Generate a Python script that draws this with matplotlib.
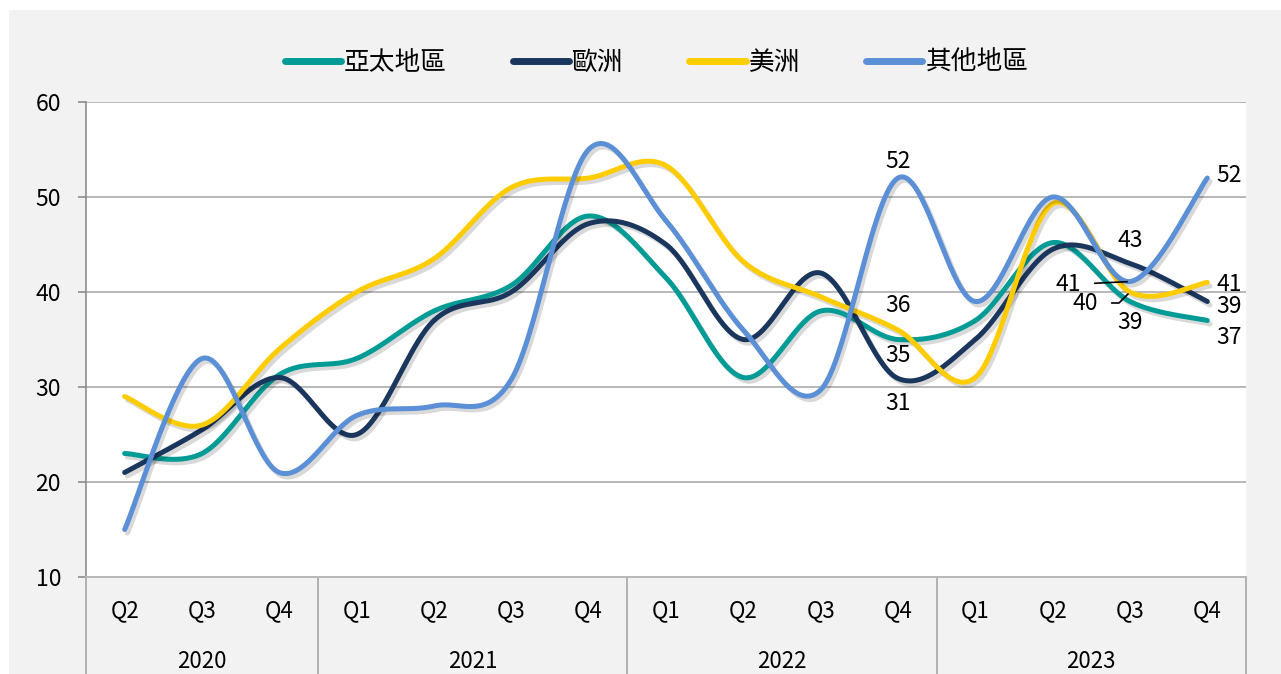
import numpy as np
import matplotlib
matplotlib.use('Agg')
import matplotlib.pyplot as plt
import matplotlib.patheffects as pe
from matplotlib.patches import Rectangle
from matplotlib.transforms import blended_transform_factory

plt.rcParams['font.family'] = ['Noto Sans CJK TC', 'DejaVu Sans']

# Data
quarters = ['Q2', 'Q3', 'Q4', 'Q1', 'Q2', 'Q3', 'Q4', 'Q1', 'Q2', 'Q3', 'Q4', 'Q1', 'Q2', 'Q3', 'Q4']
years = ['2020', '2021', '2022', '2023']
year_span = [3, 4, 4, 4]  # number of quarters per year

series_names = ['亞太地區', '歐洲', '美洲', '其他地區']
apac = [23, 23, 31.3, 33, 38, 40.7, 48, 41.5, 31, 38, 35, 37, 45.2, 39, 37]
europe = [21, 25.5, 31, 25, 37, 40, 47.2, 45, 35, 42, 30.9, 35, 44.5, 43, 39]
americas = [29, 26, 34, 40, 43.5, 51, 52, 53.3, 43.2, 39.5, 36, 31, 49.3, 40, 41]
others = [15, 33, 21, 27, 28, 30.8, 55.0, 47.5, 36, 29.7, 52, 39, 50, 41.1, 52]

colors = ['#009b95', '#1b365d', '#ffcc00', '#5b8fd6']


def smooth(y, n=40):
    # Excel-like smoothed line: Catmull-Rom through every point as cubic Bezier
    pts = np.column_stack([np.arange(len(y)), y]).astype(float)
    ext = np.vstack([pts[0], pts, pts[-1]])
    t = np.linspace(0, 1, n)[:, None]
    out = []
    for i in range(len(y) - 1):
        p0, p1, p2, p3 = ext[i], ext[i + 1], ext[i + 2], ext[i + 3]
        c1 = p1 + (p2 - p0) / 6
        c2 = p2 - (p3 - p1) / 6
        seg = (1 - t) ** 3 * p1 + 3 * (1 - t) ** 2 * t * c1 + 3 * (1 - t) * t ** 2 * c2 + t ** 3 * p2
        out.append(seg if i == 0 else seg[1:])
    return np.vstack(out)


W, H = 1281, 674
fig = plt.figure(figsize=(W / 100, H / 100), dpi=100)
fig.patch.set_facecolor('white')
fig.add_artist(Rectangle((9 / W, 0), 1 - 9 / W, 1 - 10 / H, transform=fig.transFigure,
                         facecolor='#f2f2f2', edgecolor='none', zorder=0))

ax = fig.add_axes([86 / W, 1 - 577 / H, 1160 / W, 475 / H])
ax.set_facecolor('white')

shadow = [pe.SimpleLineShadow(offset=(2, -2.5), shadow_color='black', alpha=0.15), pe.Normal()]
all_series = [apac, europe, americas, others]
for name, vals, c in zip(series_names, all_series, colors):
    s = smooth(vals)
    ax.plot(s[:, 0], s[:, 1], color=c, lw=3.6, solid_capstyle='round', label=name,
            path_effects=shadow, zorder=3)

ax.set_xlim(-0.5, len(quarters) - 0.5)
ax.set_ylim(10, 60)
ax.set_yticks(np.arange(10, 61, 10))
ax.grid(axis='y', color='#b8b8b8', lw=1.4)
ax.set_axisbelow(True)
ax.tick_params(axis='y', length=6, width=1.2, color='#8c8c8c', pad=12, labelsize=16.5)
ax.set_xticks([])
for sp in ['top', 'right']:
    ax.spines[sp].set_visible(False)
ax.spines['left'].set_color('#8c8c8c')
ax.spines['left'].set_linewidth(1.2)
ax.spines['bottom'].set_color('#b8b8b8')
ax.spines['bottom'].set_linewidth(1.4)

# Two-level category axis
tr = blended_transform_factory(ax.transData, ax.transAxes)
for i, q in enumerate(quarters):
    ax.text(i, -0.07, q, transform=tr, ha='center', va='center', fontsize=16)
start = 0
bounds = [-0.5]
for yr, n in zip(years, year_span):
    ax.text(start + (n - 1) / 2, -0.178, yr, transform=tr, ha='center', va='center', fontsize=16)
    start += n
    bounds.append(start - 0.5)
for b in bounds:
    ax.plot([b, b], [0, -0.25], transform=tr, color='#a6a6a6', lw=1.2, clip_on=False)

# Data labels (offsets in pixels)
lab = dict(textcoords='offset pixels', fontsize=16.5, va='center', zorder=5)
ax.annotate(f'{others[10]:.0f}', (10, others[10]), xytext=(0, 16), ha='center', **lab)
ax.annotate(f'{americas[10]:.0f}', (10, americas[10]), xytext=(0, 25), ha='center', **lab)
ax.annotate(f'{apac[10]:.0f}', (10, apac[10]), xytext=(0, -16), ha='center', **lab)
ax.annotate(f'{europe[10]:.0f}', (10, europe[10]), xytext=(0, -25), ha='center', **lab)

ax.annotate(f'{europe[13]:.0f}', (13, europe[13]), xytext=(0, 23), ha='center', **lab)
ax.annotate(f'{apac[13]:.0f}', (13, apac[13]), xytext=(0, -21), ha='center', **lab)
ax.annotate(f'{others[13]:.0f}', (13, others[13]), xytext=(-62, -3), ha='center',
            arrowprops=dict(arrowstyle='-', color='black', lw=1.2, shrinkA=8, shrinkB=2), **lab)
ax.annotate(f'{americas[13]:.0f}', (13, americas[13]), xytext=(-45, -11), ha='center',
            arrowprops=dict(arrowstyle='-', color='black', lw=1.2, shrinkA=8, shrinkB=2,
                            connectionstyle='angle,angleA=0,angleB=45,rad=0'), **lab)

ax.annotate(f'{others[14]:.0f}', (14, others[14]), xytext=(9, 3), ha='left', **lab)
ax.annotate(f'{americas[14]:.0f}', (14, americas[14]), xytext=(9, -2), ha='left', **lab)
ax.annotate(f'{europe[14]:.0f}', (14, europe[14]), xytext=(9, -5), ha='left', **lab)
ax.annotate(f'{apac[14]:.0f}', (14, apac[14]), xytext=(9, -17), ha='left', **lab)

leg = fig.legend(loc='center', bbox_to_anchor=(0.5125, 1 - 63 / H), ncol=4, frameon=False,
                 fontsize=18.5, handlelength=2.2, handletextpad=0.12, columnspacing=2.55)
for h in leg.get_lines():
    h.set_linewidth(5)
    h.set_path_effects([])

fig.savefig('out.png', dpi=100)
